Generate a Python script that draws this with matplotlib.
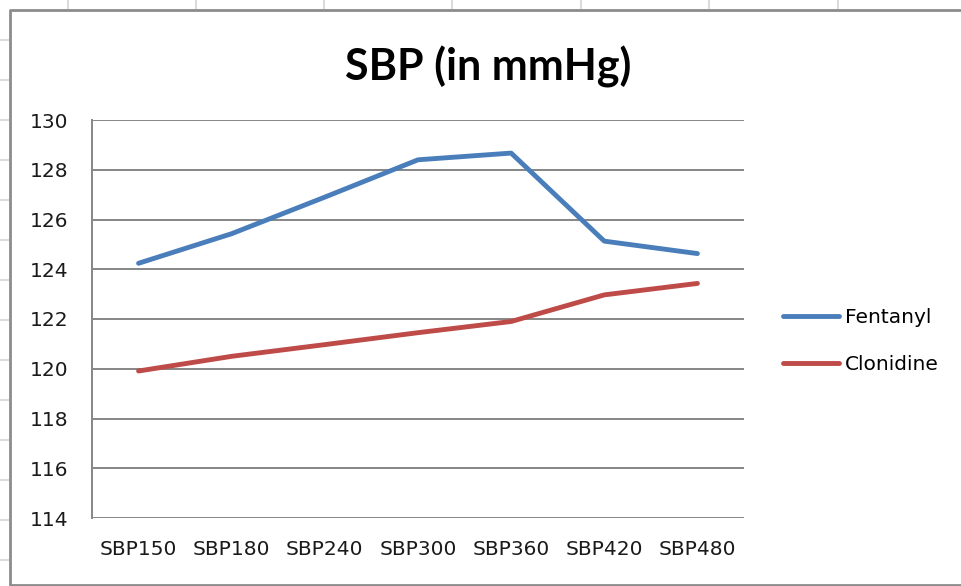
import matplotlib.pyplot as plt
from matplotlib.lines import Line2D

categories = ['SBP150', 'SBP180', 'SBP240', 'SBP300', 'SBP360', 'SBP420', 'SBP480']
fentanyl = [124.24, 125.43, 126.9, 128.4, 128.67, 125.13, 124.63]
clonidine = [119.91, 120.5, 120.97, 121.45, 121.9, 122.97, 123.43]
y_ticks = [114, 116, 118, 120, 122, 124, 126, 128, 130]

fig = plt.figure(figsize=(9.62, 5.86), dpi=100)

# spreadsheet cell grid peeking out behind the chart object
for x in [68, 196, 324, 452, 581, 709, 838]:
    fig.add_artist(Line2D([x / 962, x / 962], [1, 1 - 9 / 586], color='#d4d4d4', lw=1.2))
for y in range(40, 586, 40):
    fig.add_artist(Line2D([0, 9 / 962], [1 - y / 586, 1 - y / 586], color='#d4d4d4', lw=1.2))
# chart object border
fig.add_artist(Line2D([1, 10 / 962, 10 / 962, 1], [1 - 10 / 586, 1 - 10 / 586, 1 - 585 / 586, 1 - 585 / 586],
                      color='#8c8c8c', lw=2))

ax = fig.add_axes([92 / 962, 1 - 518 / 586, 652 / 962, 398 / 586])
x = list(range(len(categories)))
ax.plot(x, fentanyl, color='#4a7ebb', lw=3.5, label='Fentanyl', solid_capstyle='round')
ax.plot(x, clonidine, color='#be4b48', lw=3.5, label='Clonidine', solid_capstyle='round')

ax.set_xlim(-0.5, len(categories) - 0.5)
ax.set_ylim(114, 130)
ax.set_yticks(y_ticks)
ax.set_xticks(x)
ax.set_xticklabels(categories)
ax.grid(axis='y', color='#868686', lw=1.4)
ax.set_axisbelow(True)
for side in ['top', 'right', 'bottom']:
    ax.spines[side].set_visible(False)
ax.spines['left'].set_color('#868686')
ax.spines['left'].set_linewidth(1.4)
ax.tick_params(axis='both', length=0, labelsize=14.5, labelcolor='#1a1a1a')
ax.tick_params(axis='y', pad=17)
ax.tick_params(axis='x', pad=16)

fig.text(488 / 962, 1 - 67 / 586, 'SBP (in mmHg)', ha='center', va='center',
         fontsize=31, fontweight='bold', family='Lato', color='#000000')

ax.legend(loc='center left', bbox_to_anchor=(1.06, 0.445), frameon=False, fontsize=14.5,
          handlelength=2.75, handletextpad=0.3, labelspacing=1.38, borderaxespad=0, borderpad=0)

fig.savefig('out.png', dpi=100)
